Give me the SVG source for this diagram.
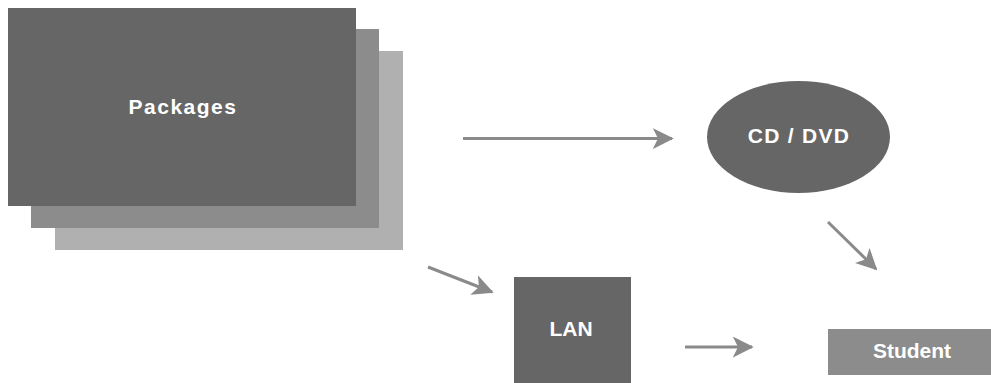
<svg xmlns="http://www.w3.org/2000/svg" width="991" height="383" viewBox="0 0 991 383">
<defs>
<style>
.lbl{font-family:"Century Gothic","URW Gothic","Liberation Sans",Arial,sans-serif;font-weight:bold;fill:#fff;text-anchor:middle;font-size:21px}
.conn{stroke:#8a8a8a;stroke-width:3;fill:none;marker-end:url(#ah)}
</style>
<marker id="ah" viewBox="0 0 12 12" refX="11" refY="6" markerWidth="7" markerHeight="7" markerUnits="strokeWidth" orient="auto">
<path d="M0,0 L12,6 L0,12 L3,6 Z" fill="#8a8a8a"/>
</marker>
</defs>
<rect width="991" height="383" fill="#fff"/>
<g id="packages">
<rect x="55" y="51" width="348" height="199" fill="#b0b0b0"/>
<rect x="31" y="29" width="348" height="199" fill="#8c8c8c"/>
<rect x="8" y="8" width="348" height="198" fill="#666"/>
<text class="lbl" x="183" y="114" letter-spacing="1.5">Packages</text>
</g>
<g id="cddvd">
<ellipse cx="798.5" cy="137" rx="91.5" ry="56" fill="#666"/>
<text class="lbl" x="799" y="143" letter-spacing="1.3">CD / DVD</text>
</g>
<g id="lan">
<rect x="514" y="277" width="117" height="106" fill="#666"/>
<text class="lbl" x="571" y="336">LAN</text>
</g>
<g id="student">
<rect x="828" y="329" width="163" height="46" fill="#8c8c8c"/>
<text class="lbl" x="912" y="358">Student</text>
</g>
<g id="connectors">
<line class="conn" x1="463" y1="138.5" x2="672" y2="138.5"/>
<line class="conn" x1="828" y1="222" x2="876" y2="269"/>
<line class="conn" x1="428" y1="267" x2="492" y2="292"/>
<line class="conn" x1="685" y1="347" x2="752" y2="347"/>
</g>
</svg>
